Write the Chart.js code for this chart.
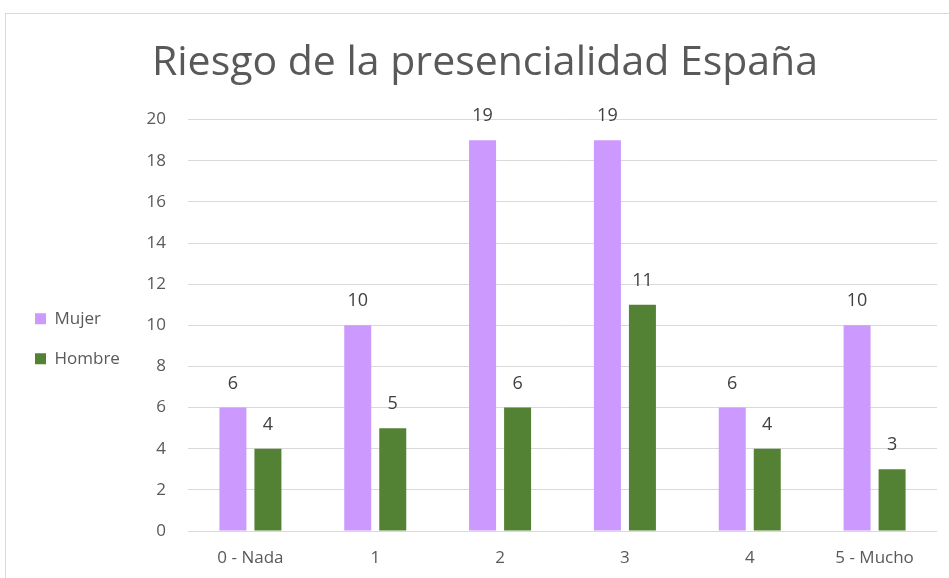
<!DOCTYPE html>
<html>
<head>
<meta charset="utf-8">
<script src="https://cdn.jsdelivr.net/npm/chart.js@4.4.1/dist/chart.umd.min.js"></script>
<style>
  html, body { margin: 0; padding: 0; background: #ffffff; overflow: hidden; width: 949px; height: 578px; }
  #wrap { position: absolute; left: 5px; top: 13px; width: 958px; height: 600px; border: 1px solid #d9d9d9; background: #fff; }
  canvas { display: block; }
</style>
</head>
<body>
<div id="wrap"><canvas id="c" width="958" height="600"></canvas></div>
<script>
const titleText = 'Riesgo de la presencialidad España';
const categories = ['0 - Nada', '1', '2', '3', '4', '5 - Mucho'];
const seriesNames = ['Mujer', 'Hombre'];
const mujer = [6, 10, 19, 19, 6, 10];
const hombre = [4, 5, 6, 11, 4, 3];
const yMin = 0, yMax = 20, yStep = 2;

const FONT = "'Open Sans', 'DejaVu Sans', sans-serif";

const dataLabels = {
  id: 'dataLabels',
  afterDatasetsDraw(chart) {
    const ctx = chart.ctx;
    ctx.save();
    ctx.font = '18px ' + FONT;
    ctx.fillStyle = '#404040';
    ctx.textAlign = 'center';
    ctx.textBaseline = 'middle';
    chart.data.datasets.forEach((ds, i) => {
      const meta = chart.getDatasetMeta(i);
      meta.data.forEach((el, j) => {
        ctx.fillText(String(ds.data[j]), el.x, el.y - 24);
      });
    });
    ctx.restore();
  }
};

new Chart(document.getElementById('c'), {
  type: 'bar',
  data: {
    labels: categories,
    datasets: [
      { label: seriesNames[0], data: mujer, backgroundColor: '#CC99FF', borderWidth: 0,
        categoryPercentage: 0.561, barPercentage: 0.771 },
      { label: seriesNames[1], data: hombre, backgroundColor: '#548235', borderWidth: 0,
        categoryPercentage: 0.561, barPercentage: 0.771 }
    ]
  },
  options: {
    responsive: false,
    animation: false,
    layout: { padding: { left: 6, right: 6, top: 0, bottom: 28.6 } },
    plugins: {
      tooltip: { enabled: false },
      title: {
        display: true, text: titleText, color: '#595959',
        font: { family: FONT, size: 41, weight: 'normal', lineHeight: 1.2 },
        padding: { top: 25, bottom: 31.4 }
      },
      legend: {
        position: 'left', fullSize: false, align: 'center',
        title: { display: true, text: ' ', padding: 0, font: { size: 22.5, lineHeight: 1.2 } },
        labels: {
          boxWidth: 11, boxHeight: 11, padding: 23, color: '#595959',
          font: { family: FONT, size: 17 }
        }
      }
    },
    scales: {
      x: {
        grid: { display: false, drawTicks: false },
        border: { display: false },
        ticks: { color: '#595959', font: { family: FONT, size: 17 }, padding: 17, maxRotation: 0, autoSkip: false }
      },
      y: {
        min: yMin, max: yMax,
        grid: { color: '#d9d9d9', lineWidth: 1, drawTicks: false },
        border: { display: false },
        ticks: { stepSize: yStep, color: '#595959', font: { family: FONT, size: 17 }, padding: 22 },
        afterFit(s) {
          const lw = (s.chart.legend && s.chart.legend.width) ? s.chart.legend.width : 120;
          s.width = 182 - 6 - lw;
        }
      },
      yR: {
        position: 'right', display: true,
        grid: { display: false }, border: { display: false },
        ticks: { display: false },
        afterFit(s) { s.width = 21; }
      }
    }
  },
  plugins: [dataLabels]
});
</script>
</body>
</html>
